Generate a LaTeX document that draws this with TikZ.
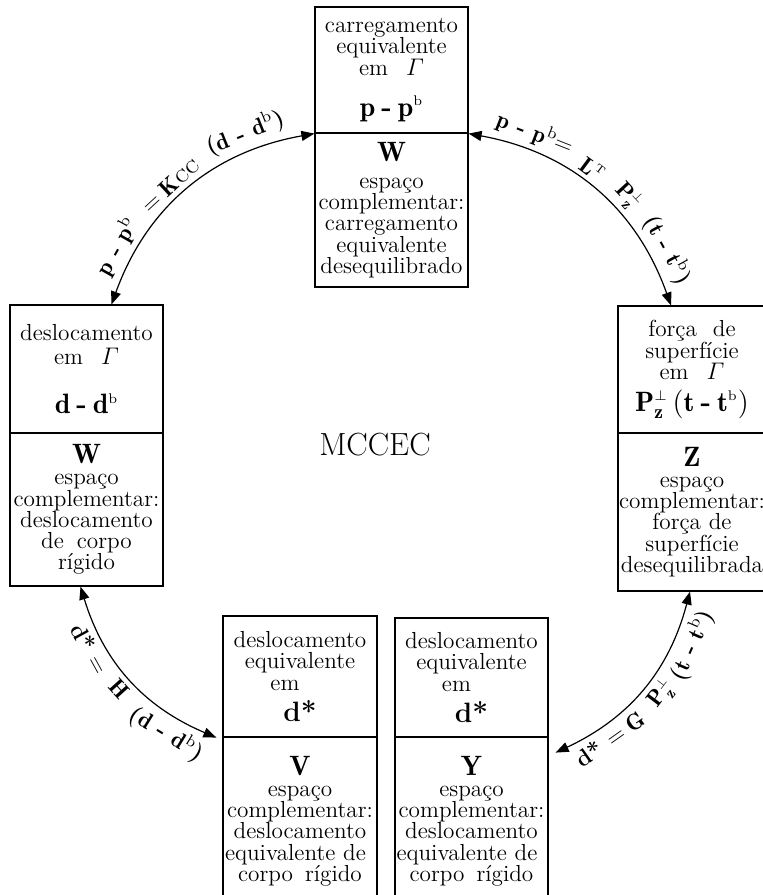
\documentclass[tikz,border=0pt]{standalone}
\usepackage{fontspec}
\usepackage{amsmath}
\usetikzlibrary{arrows.meta}

\newcommand{\partfont}{\fontsize{11.6}{10.6}\selectfont}
\newcommand{\bigttl}{\fontsize{14}{14}\selectfont}
\newcommand{\lbl}{\fontsize{11.5}{11.5}\selectfont\bfseries}
\newcommand{\mdiff}[1]{$\mathbf{#1}$\hspace{3pt}\textbf{-}\hspace{3pt}$\mathbf{#1}^{\scriptscriptstyle\mathrm{b}}$}
\newcommand{\ldiff}[1]{$\mathbf{#1}$ - $\mathbf{#1}^{\mathrm{b}}$}
\newcommand{\pzperp}{\mathbf{P}^{\scriptscriptstyle\perp}_{\mathbf{z}}}

\begin{document}
\begin{tikzpicture}[x=0.5pt, y=-0.5pt,
  part/.style={draw, line width=0.6pt, minimum width=76.5pt, text width=76pt,
    align=center, inner sep=0pt, font=\partfont},
  link/.style={line width=0.6pt, {Triangle[length=6.5pt,width=5pt]}-{Triangle[length=6.5pt,width=5pt]}},
  rel/.style={sloped, font=\lbl, inner sep=3pt}]
\useasboundingbox (0,0) rectangle (762,895);

% carregamento equivalente
\node[part, minimum height=63pt] (carga) at (391.5,70)
  {carregamento\\ equivalente\\ em\hspace{9pt}$\varGamma$\\[10pt] {\bigttl\mdiff{p}}};
\node[part, minimum height=77pt] (cargaw) at (391.5,210)
  {{\bigttl$\mathbf{W}$}\\[3pt] espaço\\ complementar:\\ carregamento\\ equivalente\\ desequilibrado};

% deslocamento
\node[part, minimum height=64pt] (desl) at (86.5,369)
  {deslocamento\\[1.4pt] em\hspace{9pt}$\varGamma$\\[14pt] {\bigttl\mdiff{d}}};
\node[part, minimum height=76.5pt] (deslw) at (86.5,509.5)
  {{\bigttl$\mathbf{W}$}\\ espaço\\ complementar:\\ deslocamento\\ de\hspace{6.5pt}corpo\\ rígido};

% forca de superficie
\node[part, minimum width=74pt, text width=74pt, minimum height=63.5pt] (fsup) at (692,369.5)
  {força\hspace{8pt}de\\ superfície\\ em\hspace{9pt}$\varGamma$\\[4pt]
   {\bigttl$\pzperp\,(\mathbf{t}$\hspace{3pt}\textbf{-}\hspace{3pt}$\mathbf{t}^{\scriptscriptstyle\mathrm{b}})$}};
\node[part, minimum width=74pt, text width=74pt, minimum height=79pt] (fsupz) at (692,512)
  {{\bigttl$\mathbf{Z}$}\\ espaço\\ complementar:\\ força de\\ superfície\\ desequilibrada};

% deslocamento equivalente
\node[part, minimum width=77pt, minimum height=60.5pt] (dstv) at (300,676.5)
  {deslocamento\\ equivalente\\ em\rule{15pt}{0pt}\\[4pt] {\bigttl\textbf{d*}}};
\node[part, minimum width=77pt, minimum height=84pt] (dstvv) at (300,821)
  {{\bigttl$\mathbf{V}$}\\ espaço\\ complementar:\\ deslocamento\\ \makebox[75pt][s]{equivalente de}\\ corpo\hspace{6pt}rígido};

\node[part, minimum height=59.5pt] (dsty) at (471.5,677.5)
  {deslocamento\\ equivalente\\ em\rule{15pt}{0pt}\\[4pt] {\bigttl\textbf{d*}}};
\node[part, minimum height=84pt] (dstyy) at (471.5,821)
  {{\bigttl$\mathbf{Y}$}\\ espaço\\ complementar:\\ deslocamento\\ \makebox[75pt][s]{equivalente de}\\ corpo\hspace{6pt}rígido};

\node[font=\fontsize{16}{16}\selectfont] (mccec) at (375,445) {MCCEC};

% relacoes
\draw[link] ([xshift=12.5pt]desl.north) to[bend left=30]
  node[rel, above, pos=0.18] {\ldiff{p}}
  node[rel, above, pos=0.46] {$=\mathbf{K}$\textsc{\mdseries cc}}
  node[rel, above, pos=0.78] {(\ldiff{d})}
  (carga.south west);
\draw[link] (carga.south east) to[bend left=30]
  node[rel, above, pos=0.21] {\ldiff{p}$=$}
  node[rel, above, pos=0.445] {$\mathbf{L}^{\scriptscriptstyle\mathrm{T}}$}
  node[rel, above, pos=0.605] {$\pzperp$}
  node[rel, above, pos=0.83] {(\ldiff{t})}
  ([xshift=-10.5pt]fsup.north);
\draw[link] ([xshift=-3pt]deslw.south) to[bend right=25]
  node[rel, below, pos=0.27] {d* $=$}
  node[rel, below, pos=0.5] {$\mathbf{H}$}
  node[rel, below, pos=0.8] {(\ldiff{d})}
  ([xshift=-3pt]dstv.south west);
\draw[link] ([xshift=3.5pt,yshift=-7.5pt]dsty.south east) to[bend right=25]
  node[rel, below, pos=0.23] {d* $=\mathbf{G}$}
  node[rel, below, pos=0.54] {$\pzperp$}
  node[rel, below, pos=0.79] {(\ldiff{t})}
  ([xshift=-1pt]fsupz.south);
\end{tikzpicture}
\end{document}
